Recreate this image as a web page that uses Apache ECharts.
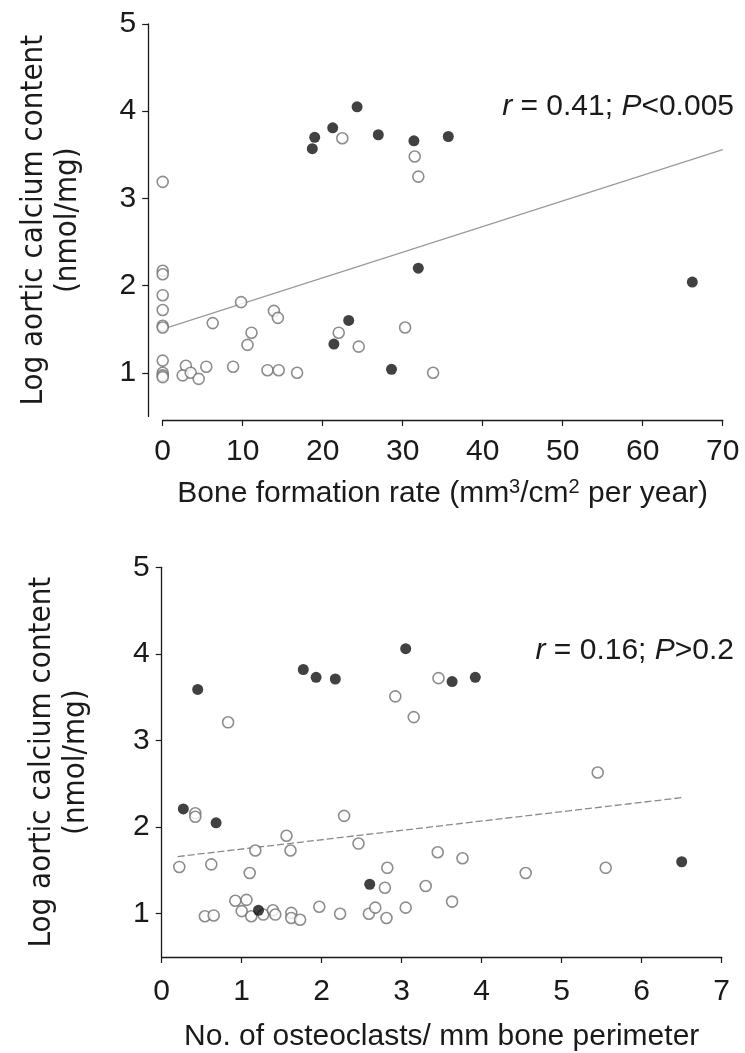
<!DOCTYPE html>
<html><head><meta charset="utf-8">
<script src="https://cdn.jsdelivr.net/npm/echarts@6/dist/echarts.min.js"></script>
<style>html,body{margin:0;padding:0;background:#fff}#c{width:745px;height:1053px}</style>
</head><body><div id="c"></div>
<script>
// ---- tick values ----
const yTicks = [1, 2, 3, 4, 5];
const bfrTicks = [0, 10, 20, 30, 40, 50, 60, 70];
const ocTicks = [0, 1, 2, 3, 4, 5, 6, 7];

// ---- texts ----
const yName = 'Log aortic calcium content\n(nmol/mg)';
const bfrName = 'Bone formation rate (mm{sup|3}/cm{sup|2} per year)';
const ocName = 'No. of osteoclasts/ mm bone perimeter';
const bfrStat = '{i|r} = 0.41; {i|P}<0.005';
const ocStat = '{i|r} = 0.16; {i|P}>0.2';

// ---- panel 1: bone formation rate vs log aortic calcium ----
const bfrOpen = [
  [0,3.19],[0,2.17],[0,2.13],[0,1.89],[0,1.72],[0,1.54],[0,1.52],[0,1.14],[0,1.00],[0,0.97],[0,0.95],
  [2.9,1.08],[2.5,0.97],[3.5,1.00],[4.5,0.93],[5.45,1.07],[6.25,1.57],[8.8,1.07],[9.8,1.81],
  [10.6,1.32],[11.1,1.46],[13.9,1.71],[14.4,1.63],[13.1,1.03],[14.5,1.03],[16.8,1.00],
  [22.0,1.46],[24.5,1.30],[30.3,1.52],[33.8,1.00],[22.45,3.69],[31.5,3.48],[31.95,3.25]
];
const bfrFilled = [
  [18.7,3.57],[19.0,3.70],[21.25,3.81],[24.3,4.05],[26.95,3.73],[31.4,3.66],[31.95,2.20],
  [35.7,3.71],[66.2,2.04],[23.25,1.60],[21.4,1.33],[28.6,1.04]
];
const bfrFit = [[0,1.50],[70,3.56]];

// ---- panel 2: osteoclasts vs log aortic calcium ----
const ocOpen = [
  [0.83,3.21],[2.92,3.51],[3.15,3.27],[3.46,3.72],[5.45,2.63],[3.45,1.71],[3.76,1.64],[4.55,1.47],
  [5.55,1.53],[3.30,1.32],[3.63,1.14],[3.05,1.07],[0.42,2.16],[0.42,2.12],[2.28,2.13],[1.56,1.90],
  [1.17,1.73],[1.61,1.73],[2.46,1.81],[0.22,1.54],[0.62,1.57],[1.10,1.47],[2.82,1.53],[2.79,1.30],
  [0.92,1.15],[1.06,1.16],[1.00,1.03],[1.12,0.97],[1.27,0.99],[1.39,1.04],[1.42,0.99],[1.62,1.01],
  [1.62,0.95],[1.73,0.93],[1.97,1.08],[2.23,1.00],[2.59,1.00],[2.67,1.07],[2.81,0.95],[0.54,0.97],[0.65,0.98]
];
const ocFilled = [
  [0.45,3.59],[1.77,3.82],[1.93,3.73],[2.17,3.71],[3.05,4.06],[3.63,3.68],[3.92,3.73],
  [0.27,2.21],[0.68,2.05],[2.60,1.34],[1.21,1.04],[6.50,1.60]
];
const ocFit = [[0.2,1.66],[6.5,2.34]];

const FONT = "'Liberation Sans', Arial, Helvetica, sans-serif";
const NARROW = "'Liberation Sans Narrow', 'Arial Narrow', 'DejaVu Sans Condensed', sans-serif";
const INK = '#1a1a1a';

function yAxisCfg(grid, offset, gap) {
  return {
    gridIndex: grid, type: 'value', min: 0.5, max: 5, offset: offset,
    splitLine: {show: false},
    axisLine: {show: true, onZero: false, lineStyle: {color: INK, width: 1.3}},
    axisTick: {show: true, length: 6, customValues: yTicks, lineStyle: {color: INK, width: 1.2}},
    axisLabel: {customValues: yTicks, fontSize: 30, fontFamily: FONT, color: INK, margin: 12},
    name: yName, nameLocation: 'middle', nameRotate: 90, nameGap: gap, nameMoveOverlap: false,
    nameTextStyle: {fontSize: 31, fontFamily: NARROW, color: INK, lineHeight: 34}
  };
}
function xAxisCfg(grid, max, interval, offset, name, gap, margin) {
  return {
    gridIndex: grid, type: 'value', min: 0, max: max, interval: interval, offset: offset,
    splitLine: {show: false},
    axisLine: {show: true, onZero: false, lineStyle: {color: INK, width: 1.3}},
    axisTick: {show: true, length: 6, lineStyle: {color: INK, width: 1.2}},
    axisLabel: {fontSize: 30, fontFamily: FONT, color: INK, margin: margin},
    name: name, nameLocation: 'middle', nameGap: gap, nameMoveOverlap: false,
    nameTextStyle: {fontSize: 30, fontFamily: FONT, color: INK,
      rich: {sup: {fontSize: 20, fontFamily: FONT, color: INK, verticalAlign: 'top', padding: [0, 0, 12, 0]}}}
  };
}
const openStyle = {color: '#fff', borderColor: '#707070', borderWidth: 1.6};
const filledStyle = {color: '#111'};

const chart = echarts.init(document.getElementById('c'), null, {renderer: 'canvas'});
chart.setOption({
  animation: false,
  backgroundColor: '#fff',
  title: [
    {text: bfrStat, right: 6, top: 87,
     textStyle: {fontSize: 30, fontWeight: 'normal', fontFamily: FONT, color: INK,
       rich: {i: {fontStyle: 'italic', fontSize: 30, fontFamily: FONT, color: INK}}}},
    {text: ocStat, right: 6, top: 631,
     textStyle: {fontSize: 30, fontWeight: 'normal', fontFamily: FONT, color: INK,
       rich: {i: {fontStyle: 'italic', fontSize: 30, fontFamily: FONT, color: INK}}}}
  ],
  grid: [
    {left: 162.7, width: 560, top: 24, height: 392.4},
    {left: 161.7, width: 560, top: 567.3, height: 389.7}
  ],
  xAxis: [
    xAxisCfg(0, 70, 10, 3.5, bfrName, 58, 17),
    xAxisCfg(1, 7, 1, 0, ocName, 65, 20)
  ],
  yAxis: [
    yAxisCfg(0, 14.5, 63),
    yAxisCfg(1, 0, 69)
  ],
  series: [
    {type: 'line', xAxisIndex: 0, yAxisIndex: 0, data: bfrFit, symbol: 'none', z: 1,
     lineStyle: {color: '#9a9a9a', width: 1.3}},
    {type: 'scatter', xAxisIndex: 0, yAxisIndex: 0, data: bfrOpen, symbolSize: 11, itemStyle: openStyle, z: 2},
    {type: 'scatter', xAxisIndex: 0, yAxisIndex: 0, data: bfrFilled, symbolSize: 11, itemStyle: filledStyle, z: 3},
    {type: 'line', xAxisIndex: 1, yAxisIndex: 1, data: ocFit, symbol: 'none', z: 1,
     lineStyle: {color: '#8a8a8a', width: 1.3, type: [7, 3]}},
    {type: 'scatter', xAxisIndex: 1, yAxisIndex: 1, data: ocOpen, symbolSize: 11, itemStyle: openStyle, z: 2},
    {type: 'scatter', xAxisIndex: 1, yAxisIndex: 1, data: ocFilled, symbolSize: 11, itemStyle: filledStyle, z: 3}
  ]
});
</script>
</body></html>
